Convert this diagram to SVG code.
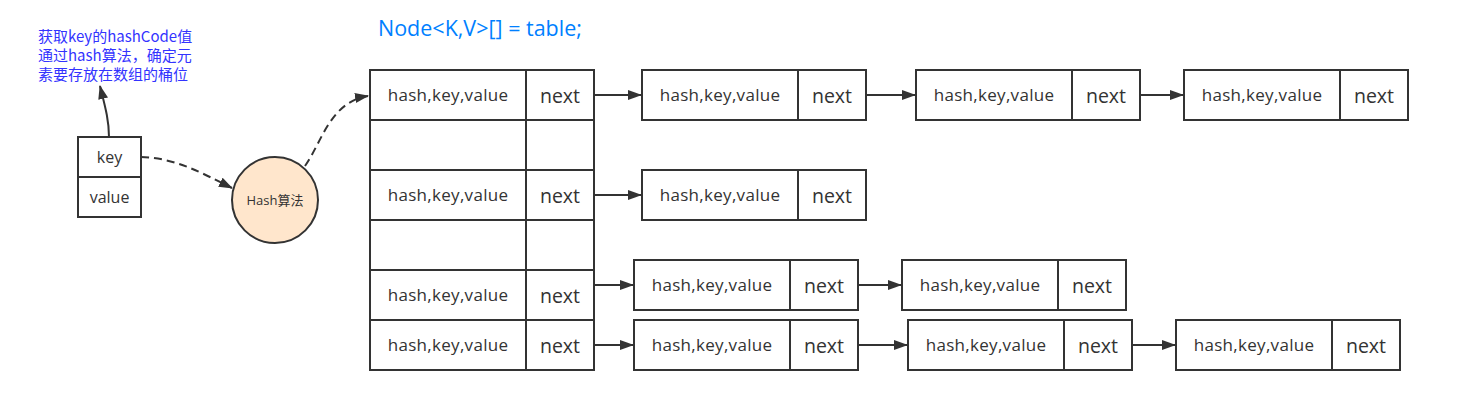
<svg xmlns="http://www.w3.org/2000/svg" width="1478" height="403" viewBox="0 0 1478 403">
<defs>
<style>
.box{fill:#fff;stroke:#333;stroke-width:2}
.ln{fill:none;stroke:#333;stroke-width:2}
.cn{fill:none;stroke:#333;stroke-width:2}
.dash{stroke-dasharray:8 5}
.t{font-family:"Open Sans","Noto Sans","Noto Sans CJK SC",sans-serif;fill:#333;text-anchor:middle}
.hkv{font-size:17px;letter-spacing:0.3px}
.nx{font-size:19.5px}
.kv{font-size:16px}
.note{font-family:"Noto Sans CJK SC","Noto Sans",sans-serif;font-size:15px;fill:#3333ff}
.title{font-family:"Open Sans","Noto Sans",sans-serif;font-size:21.5px;fill:#007fff}
</style>
<marker id="arr" viewBox="0 0 14 10" refX="13" refY="5" markerWidth="14" markerHeight="10" markerUnits="userSpaceOnUse" orient="auto">
<path d="M0,0 L14,5 L0,10 z" fill="#333"/>
</marker>
</defs>
<rect width="1478" height="403" fill="#fff"/>

<g id="annotation">
<text class="note" x="38" y="42">获取key的hashCode值</text>
<text class="note" x="38" y="61">通过hash算法，确定元</text>
<text class="note" x="38" y="80">素要存放在数组的桶位</text>
</g>
<g id="title">
<text class="title" x="378" y="36">Node&lt;K,V&gt;[] = table;</text>
</g>

<g id="entry">
<rect class="box" x="78" y="137" width="63" height="80"/>
<line class="ln" x1="78" y1="177" x2="141" y2="177"/>
<text class="t kv" x="109.5" y="163">key</text>
<text class="t kv" x="109.5" y="203">value</text>
</g>

<g id="hash">
<circle cx="275" cy="200" r="43" fill="#ffe6cc" stroke="#333" stroke-width="2"/>
<text class="t" x="275" y="204.5" font-size="13px">Hash算法</text>
</g>

<g id="table">
<rect class="box" x="370" y="70" width="224" height="300"/>
<line class="ln" x1="526" y1="70" x2="526" y2="370"/>
<line class="ln" x1="370" y1="120" x2="594" y2="120"/>
<line class="ln" x1="370" y1="170" x2="594" y2="170"/>
<line class="ln" x1="370" y1="220" x2="594" y2="220"/>
<line class="ln" x1="370" y1="270" x2="594" y2="270"/>
<line class="ln" x1="370" y1="320" x2="594" y2="320"/>
<text class="t hkv" x="448" y="101">hash,key,value</text>
<text class="t nx" x="560" y="102.5">next</text>
<text class="t hkv" x="448" y="201">hash,key,value</text>
<text class="t nx" x="560" y="202.5">next</text>
<text class="t hkv" x="448" y="301">hash,key,value</text>
<text class="t nx" x="560" y="302.5">next</text>
<text class="t hkv" x="448" y="351">hash,key,value</text>
<text class="t nx" x="560" y="352.5">next</text>
</g>

<g id="n0a">
<rect class="box" x="642" y="70" width="224" height="50"/>
<line class="ln" x1="798" y1="70" x2="798" y2="120"/>
<text class="t hkv" x="720" y="101">hash,key,value</text>
<text class="t nx" x="832" y="102.5">next</text>
</g>
<g id="n0b">
<rect class="box" x="916" y="70" width="224" height="50"/>
<line class="ln" x1="1072" y1="70" x2="1072" y2="120"/>
<text class="t hkv" x="994" y="101">hash,key,value</text>
<text class="t nx" x="1106" y="102.5">next</text>
</g>
<g id="n0c">
<rect class="box" x="1184" y="70" width="224" height="50"/>
<line class="ln" x1="1340" y1="70" x2="1340" y2="120"/>
<text class="t hkv" x="1262" y="101">hash,key,value</text>
<text class="t nx" x="1374" y="102.5">next</text>
</g>

<g id="n2a">
<rect class="box" x="642" y="170" width="224" height="50"/>
<line class="ln" x1="798" y1="170" x2="798" y2="220"/>
<text class="t hkv" x="720" y="201">hash,key,value</text>
<text class="t nx" x="832" y="202.5">next</text>
</g>

<g id="n4a">
<rect class="box" x="634" y="260" width="224" height="50"/>
<line class="ln" x1="790" y1="260" x2="790" y2="310"/>
<text class="t hkv" x="712" y="291">hash,key,value</text>
<text class="t nx" x="824" y="292.5">next</text>
</g>
<g id="n4b">
<rect class="box" x="902" y="260" width="224" height="50"/>
<line class="ln" x1="1058" y1="260" x2="1058" y2="310"/>
<text class="t hkv" x="980" y="291">hash,key,value</text>
<text class="t nx" x="1092" y="292.5">next</text>
</g>

<g id="n5a">
<rect class="box" x="634" y="320" width="224" height="50"/>
<line class="ln" x1="790" y1="320" x2="790" y2="370"/>
<text class="t hkv" x="712" y="351">hash,key,value</text>
<text class="t nx" x="824" y="352.5">next</text>
</g>
<g id="n5b">
<rect class="box" x="908" y="320" width="224" height="50"/>
<line class="ln" x1="1064" y1="320" x2="1064" y2="370"/>
<text class="t hkv" x="986" y="351">hash,key,value</text>
<text class="t nx" x="1098" y="352.5">next</text>
</g>
<g id="n5c">
<rect class="box" x="1176" y="320" width="224" height="50"/>
<line class="ln" x1="1332" y1="320" x2="1332" y2="370"/>
<text class="t hkv" x="1254" y="351">hash,key,value</text>
<text class="t nx" x="1366" y="352.5">next</text>
</g>

<g id="connectors">
<path class="cn" d="M109,137 C109,120 105,106 100,86" marker-end="url(#arr)"/>
<path class="cn dash" d="M141,157 C175,158 200,172 232,188" marker-end="url(#arr)"/>
<path class="cn dash" d="M305,166 C322,142 330,102 368,96" marker-end="url(#arr)"/>
<line class="cn" x1="594" y1="95" x2="641" y2="95" marker-end="url(#arr)"/>
<line class="cn" x1="866" y1="95" x2="915" y2="95" marker-end="url(#arr)"/>
<line class="cn" x1="1140" y1="95" x2="1183" y2="95" marker-end="url(#arr)"/>
<line class="cn" x1="594" y1="195" x2="641" y2="195" marker-end="url(#arr)"/>
<line class="cn" x1="594" y1="285" x2="633" y2="285" marker-end="url(#arr)"/>
<line class="cn" x1="858" y1="285" x2="901" y2="285" marker-end="url(#arr)"/>
<line class="cn" x1="594" y1="345" x2="633" y2="345" marker-end="url(#arr)"/>
<line class="cn" x1="858" y1="345" x2="907" y2="345" marker-end="url(#arr)"/>
<line class="cn" x1="1132" y1="345" x2="1175" y2="345" marker-end="url(#arr)"/>
</g>
</svg>
